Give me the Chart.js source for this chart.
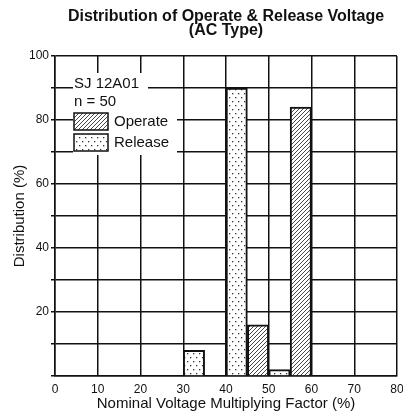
<!DOCTYPE html>
<html><head><meta charset="utf-8">
<script src="https://cdn.jsdelivr.net/npm/chart.js@4/dist/chart.umd.min.js"></script>
<style>html,body{margin:0;padding:0;background:#fff}#wrap{width:403px;height:420px}</style>
</head><body><div id="wrap"><canvas id="c" width="403" height="420"></canvas></div>
<script>
// ---- data ----
const bins = ['0-5','5-10','10-15','15-20','20-25','25-30','30-35','35-40','40-45','45-50','50-55','55-60','60-65','65-70','70-75','75-80'];
const operateValues = [null,null,null,null,null,null,null,null,null,16,null,84,null,null,null,null];
const releaseValues = [null,null,null,null,null,null,8,null,90,null,2,null,null,null,null,null];
const xTicks = [0,10,20,30,40,50,60,70,80];
const yLabelledTicks = [20,40,60,80,100];
const titleLines = ['Distribution of Operate & Release Voltage','(AC Type)'];
const xTitle = 'Nominal Voltage Multiplying Factor (%)';
const yTitle = 'Distribution (%)';
const legendInfo = ['SJ 12A01','n = 50'];
const seriesNames = ['Operate','Release'];

// ---- patterns ----
function hatchPattern(){
  const c=document.createElement('canvas');c.width=4;c.height=4;
  const g=c.getContext('2d');
  g.fillStyle='#fff';g.fillRect(0,0,4,4);
  g.strokeStyle='#333';g.lineWidth=0.9;
  g.beginPath();
  g.moveTo(0,4);g.lineTo(4,0);
  g.moveTo(-1,1);g.lineTo(1,-1);
  g.moveTo(3,5);g.lineTo(5,3);
  g.stroke();
  return g.createPattern(c,'repeat');
}
function dotPattern(){
  const c=document.createElement('canvas');c.width=6;c.height=8;
  const g=c.getContext('2d');
  g.fillStyle='#fff';g.fillRect(0,0,6,8);
  g.fillStyle='#333';
  g.fillRect(1,1,1.3,1.3);
  g.fillRect(4,5,1.3,1.3);
  return g.createPattern(c,'repeat');
}
const opFill=hatchPattern();
const relFill=dotPattern();

const FONT='"Liberation Sans", Arial, sans-serif';

const insetLegend={
  id:'insetLegend',
  afterDatasetsDraw(chart){
    const {ctx,chartArea:a}=chart;
    ctx.save();
    ctx.fillStyle='#fff';
    ctx.fillRect(a.left+18,a.top+17,75,19);
    ctx.fillRect(a.left+18,a.top+36,104,63);
    ctx.fillStyle='#111';
    ctx.font='15px '+FONT;
    ctx.textBaseline='middle';
    ctx.textAlign='left';
    ctx.fillText(legendInfo[0],a.left+19,a.top+28);
    ctx.fillText(legendInfo[1],a.left+19,a.top+46);
    ctx.lineWidth=1.5;ctx.strokeStyle='#111';
    ctx.fillStyle=opFill;ctx.fillRect(a.left+19,a.top+57,34,17);
    ctx.strokeRect(a.left+19,a.top+57,34,17);
    ctx.fillStyle=relFill;ctx.fillRect(a.left+19,a.top+78,34,17);
    ctx.strokeRect(a.left+19,a.top+78,34,17);
    ctx.fillStyle='#111';
    ctx.fillText(seriesNames[0],a.left+59,a.top+66);
    ctx.fillText(seriesNames[1],a.left+59,a.top+87);
    ctx.restore();
  }
};

new Chart(document.getElementById('c'),{
  type:'bar',
  data:{
    labels:bins,
    datasets:[
      {label:seriesNames[0],data:operateValues,backgroundColor:opFill,borderColor:'#111',borderWidth:2,borderSkipped:'start',xAxisID:'x',yAxisID:'y'},
      {label:seriesNames[1],data:releaseValues,backgroundColor:relFill,borderColor:'#111',borderWidth:2,borderSkipped:'start',xAxisID:'x',yAxisID:'y'}
    ]
  },
  options:{
    responsive:false,animation:false,devicePixelRatio:1,
    layout:{padding:{left:0,right:6,top:0,bottom:0}},
    datasets:{bar:{grouped:false,categoryPercentage:1,barPercentage:1}},
    plugins:{
      legend:{display:false},
      tooltip:{enabled:false},
      title:{display:true,text:titleLines,fullSize:false,color:'#111',
        font:{family:FONT,size:16,weight:'bold',lineHeight:0.875},
        padding:{top:10,bottom:18}}
    },
    scales:{
      x:{type:'category',display:false,offset:true},
      x2:{type:'linear',position:'bottom',min:0,max:80,offset:false,
        afterBuildTicks(s){s.ticks=xTicks.map(v=>({value:v}));},
        afterFit(s){s.height=44;s.paddingLeft=0;s.paddingRight=0;},
        grid:{color:'#111',lineWidth:1.5,drawTicks:false,offset:false},
        border:{color:'#111',width:1.5},
        ticks:{color:'#111',padding:6,font:{family:FONT,size:12},maxRotation:0,autoSkip:false},
        title:{display:true,text:xTitle,color:'#111',font:{family:FONT,size:15,lineHeight:1.1},padding:{top:0,bottom:8}}
      },
      y:{type:'linear',min:0,max:100,
        afterBuildTicks(s){const t=[];for(let v=0;v<=100;v+=10)t.push({value:v});s.ticks=t;},
        afterFit(s){s.width=55;s.paddingTop=0;s.paddingBottom=0;},
        grid:{color:'#111',lineWidth:1.5,tickLength:4,drawTicks:true},
        border:{color:'#111',width:1.5},
        ticks:{color:'#111',padding:2,font:{family:FONT,size:12},
          callback:(v)=>yLabelledTicks.includes(v)?String(v):''},
        title:{display:true,text:yTitle,color:'#111',font:{family:FONT,size:15,lineHeight:1.1},padding:{top:12,bottom:0}}
      }
    }
  },
  plugins:[insetLegend]
});
</script></body></html>
